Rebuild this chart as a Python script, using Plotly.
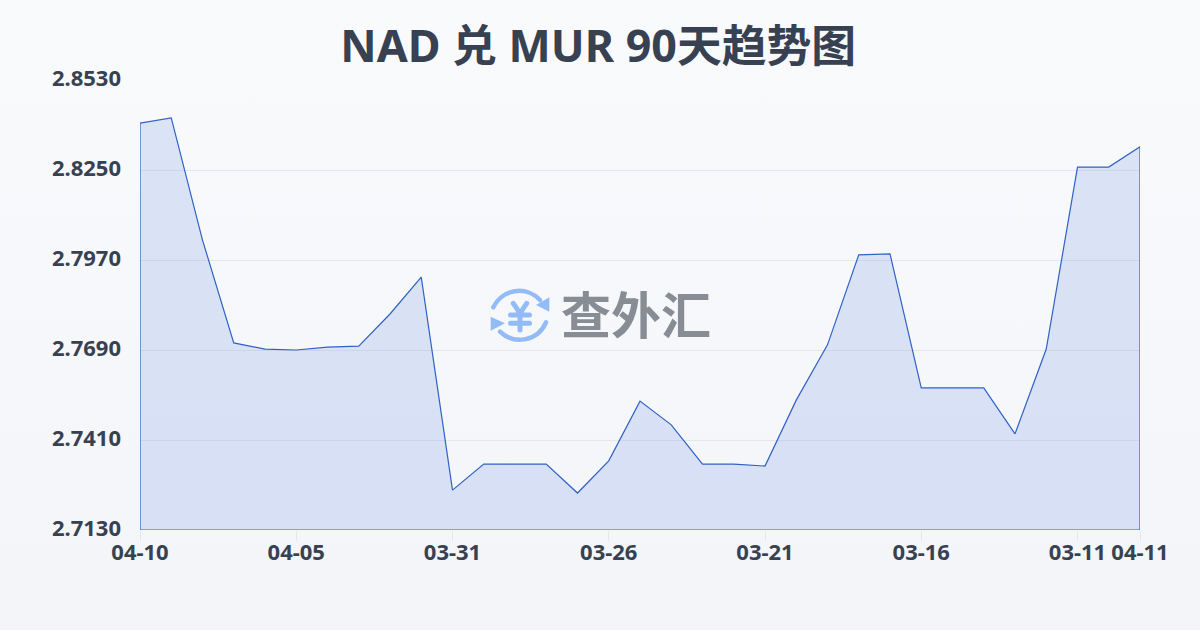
import base64
import plotly.graph_objects as go

title = "NAD 兑 MUR 90天趋势图"
rates = [2.8396, 2.8412, 2.8032, 2.7712, 2.7693, 2.7690, 2.7699, 2.7702, 2.7802, 2.7917, 2.7254,
         2.7335, 2.7335, 2.7335, 2.7245, 2.7345, 2.7531, 2.7457, 2.7335, 2.7335, 2.7329, 2.7534,
         2.7706, 2.7986, 2.7989, 2.7572, 2.7572, 2.7572, 2.7429, 2.7693, 2.8259, 2.8259, 2.8322]
x_tick_positions = [0, 5, 10, 15, 20, 25, 30, 32]
x_tick_labels = ["04-10", "04-05", "03-31", "03-26", "03-21", "03-16", "03-11", "04-11"]
y_ticks = [2.7130, 2.7410, 2.7690, 2.7970, 2.8250, 2.8530]
y_min, y_max = 2.7130, 2.8530

TEXT = "#374151"
positions = list(range(len(rates)))
last = positions[-1]

fig = go.Figure()
fig.add_trace(go.Scatter(
    x=positions + [last, 0, 0],
    y=rates + [y_min, y_min, rates[0]],
    mode="lines", fill="toself",
    fillcolor="rgba(66,113,222,0.16)",
    line=dict(color="#2f62c4", width=1.2),
    hoverinfo="skip", showlegend=False, cliponaxis=False,
))

icon = """<svg xmlns='http://www.w3.org/2000/svg' viewBox='0 0 60 60'>
<g fill='none' stroke='#93bbf8' stroke-width='4.5' stroke-linecap='round'>
<path d='M3.3 22.3 A28.5 28.5 0 0 1 50 15'/><path d='M56 37.3 A28.5 28.5 0 0 1 10 46.7'/></g>
<path d='M59.3 12.3 L59.3 26.7 L46 20 Z' fill='#93bbf8'/><path d='M0.7 31.7 L0.7 45.7 L15 38.3 Z' fill='#93bbf8'/>
<g fill='none' stroke='#93bbf8' stroke-width='5' stroke-linecap='round'>
<path d='M23.3 18.3 L30 28.3 L36.7 18.3 M30 28.3 L30 45 M20.5 30 L39.5 30 M20.5 38.3 L39.5 38.3'/></g></svg>"""
icon_uri = "data:image/svg+xml;base64," + base64.b64encode(icon.encode("utf-8")).decode()

fig.update_layout(
    width=1200, height=630,
    margin=dict(l=140, r=60, t=80, b=100),
    paper_bgcolor="rgba(0,0,0,0)", plot_bgcolor="rgba(0,0,0,0)",
    font=dict(family="Noto Sans, Noto Sans CJK SC", color=TEXT),
    title=dict(text=f"<b>{title}</b>", x=0.4985, xanchor="center", y=0.927, yanchor="middle",
               font=dict(size=44.8, color=TEXT, family="Noto Sans, Noto Sans CJK SC")),
    xaxis=dict(range=[0, last], tickmode="array", tickvals=x_tick_positions, ticktext=x_tick_labels,
               showgrid=False, zeroline=False, showline=False,
               ticks="outside", ticklen=10, tickcolor="#e5e7eb", tickwidth=1,
               ticklabelstandoff=-7,
               tickfont=dict(size=22, color=TEXT, weight="bold")),
    yaxis=dict(range=[y_min, y_max], tickmode="array", tickvals=y_ticks,
               ticktext=[f"{v:.4f}" for v in y_ticks],
               showgrid=True, gridcolor="#e5e7eb", gridwidth=1, zeroline=False, showline=False,
               ticks="", ticklabelstandoff=18, ticklabelshift=-2,
               tickfont=dict(size=22, color=TEXT, weight="bold")),
    images=[dict(source=icon_uri, xref="paper", yref="paper", x=(490-140)/1000, y=1-(285-80)/450,
                 sizex=60/1000, sizey=60/450, xanchor="left", yanchor="top", layer="above")],
    annotations=[dict(text="<b>查外汇</b>", xref="paper", yref="paper",
                      x=(636-140)/1000, y=1-(312-80)/450, xanchor="center", yanchor="middle",
                      showarrow=False, font=dict(size=50, color="#888c94", family="Noto Sans CJK SC"))],
)

fig.write_html("out.html", config={"displayModeBar": False},
               post_script="document.documentElement.style.height='100%';"
                           "document.body.style.margin='0';document.body.style.minHeight='630px';"
                           "document.body.style.background='linear-gradient(180deg,#f9fafc 0%,#f3f5f8 100%)';")
